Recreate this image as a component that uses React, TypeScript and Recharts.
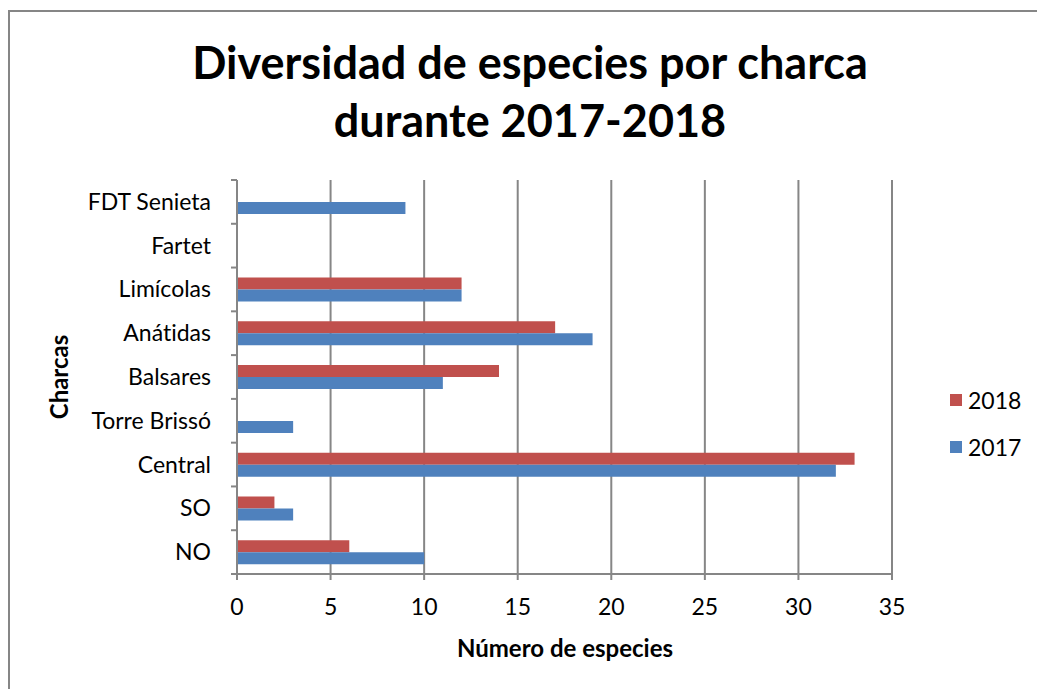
import { FC } from 'react';
import { Bar, BarChart, CartesianGrid, XAxis, YAxis } from 'recharts';

// categories listed top to bottom as they appear in the chart
const charcas = [
  'FDT Senieta',
  'Fartet',
  'Limícolas',
  'Anátidas',
  'Balsares',
  'Torre Brissó',
  'Central',
  'SO',
  'NO',
];
const especies2018 = [0, 0, 12, 17, 14, 0, 33, 2, 6];
const especies2017 = [9, 0, 12, 19, 11, 3, 32, 3, 10];
const xTicks = [0, 5, 10, 15, 20, 25, 30, 35];

const data = charcas.map((name, i) => ({
  name,
  y2018: especies2018[i],
  y2017: especies2017[i],
}));

const FONT = 'Lato, "Open Sans", sans-serif';
const GREY = '#868686';
const RED = '#C0504D';
const BLUE = '#4F81BD';
const TICK_FS = 23;

const W = 1037;
const H = 689;
const X_AXIS_H = 40;
const M = { top: 180, right: 145, bottom: 75, left: 0 };
const band = (H - M.top - M.bottom - X_AXIS_H) / charcas.length;

const CatTick: FC<any> = ({ x, y, payload, index }) => {
  const top = y - band / 2;
  return (
    <g>
      <line x1={x + 20} x2={x + 26} y1={top} y2={top} stroke={GREY} strokeWidth={2} />
      {index === charcas.length - 1 && (
        <line x1={x + 20} x2={x + 26} y1={top + band} y2={top + band} stroke={GREY} strokeWidth={2} />
      )}
      <text
        x={x}
        y={y}
        dy="0.35em"
        textAnchor="end"
        fontSize={TICK_FS}
        fontFamily={FONT}
        fill="#000"
        style={{ fontVariantLigatures: 'none' }}
      >
        {payload.value}
      </text>
    </g>
  );
};

const App: FC = () => {
  return (
    <div
      style={{
        position: 'absolute',
        left: 0,
        top: 0,
        width: W,
        height: H,
        background: '#fff',
        overflow: 'hidden',
        fontVariantLigatures: 'none',
      }}
    >
      <div
        style={{
          position: 'absolute',
          left: 8,
          top: 10,
          width: W,
          height: H,
          border: `2px solid ${GREY}`,
          boxSizing: 'border-box',
        }}
      />
      <div
        style={{
          position: 'absolute',
          left: 0,
          width: 1060,
          top: 33,
          textAlign: 'center',
          fontFamily: FONT,
          fontWeight: 700,
          fontSize: 45,
          lineHeight: '58px',
        }}
      >
        Diversidad de especies por charca
        <br />
        durante 2017-2018
      </div>
      <BarChart
        width={W}
        height={H}
        data={data}
        layout="vertical"
        margin={M}
        barSize={12}
        barGap={0}
        style={{ position: 'absolute', left: 0, top: 0 }}
      >
        <CartesianGrid horizontal={false} stroke={GREY} strokeWidth={2} />
        <XAxis
          type="number"
          domain={[0, 35]}
          ticks={xTicks}
          interval={0}
          axisLine={{ stroke: GREY, strokeWidth: 2 }}
          tickLine={{ stroke: GREY, strokeWidth: 2 }}
          tickSize={6}
          tickMargin={19}
          tick={{ fontSize: TICK_FS, fontFamily: FONT, fill: '#000' }}
          height={X_AXIS_H}
        />
        <YAxis
          type="category"
          dataKey="name"
          width={237}
          interval={0}
          axisLine={{ stroke: GREY, strokeWidth: 2 }}
          tickLine={false}
          tickSize={0}
          tickMargin={26}
          tick={<CatTick />}
        />
        <Bar dataKey="y2018" name="2018" fill={RED} isAnimationActive={false} />
        <Bar dataKey="y2017" name="2017" fill={BLUE} isAnimationActive={false} />
      </BarChart>
      <div
        style={{
          position: 'absolute',
          left: 58,
          top: 377,
          transform: 'translate(-50%, -50%) rotate(-90deg)',
          fontFamily: FONT,
          fontWeight: 700,
          fontSize: 24,
          whiteSpace: 'nowrap',
        }}
      >
        Charcas
      </div>
      <div
        style={{
          position: 'absolute',
          left: 565,
          top: 647,
          transform: 'translate(-50%, -50%)',
          fontFamily: FONT,
          fontWeight: 700,
          fontSize: 24,
          whiteSpace: 'nowrap',
        }}
      >
        Número de especies
      </div>
      {[
        { label: '2018', color: RED, top: 400 },
        { label: '2017', color: BLUE, top: 447 },
      ].map((item) => (
        <div
          key={item.label}
          style={{
            position: 'absolute',
            left: 950,
            top: item.top,
            transform: 'translateY(-50%)',
            display: 'flex',
            alignItems: 'center',
            fontFamily: FONT,
            fontSize: TICK_FS,
          }}
        >
          <span style={{ width: 12, height: 12, background: item.color, marginRight: 6 }} />
          {item.label}
        </div>
      ))}
    </div>
  );
};

export default App;
